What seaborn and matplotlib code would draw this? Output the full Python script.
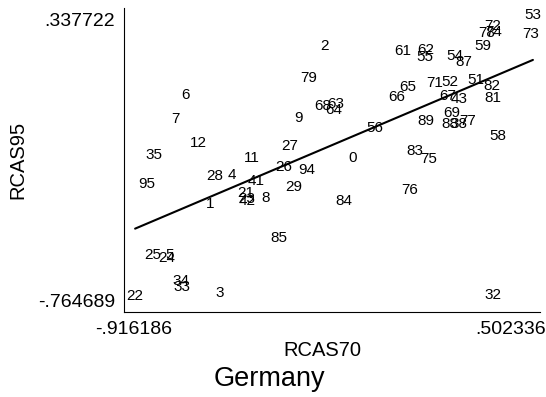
import matplotlib
matplotlib.use("Agg")
import matplotlib.pyplot as plt
import seaborn as sns
import pandas as pd

# Revealed comparative advantage by sector, 1970 vs 1995
sector = ["53", "72", "78", "74", "73", "59", "2", "61", "62", "55",
          "54", "87", "79", "65", "71", "52", "51", "82", "6", "66",
          "67", "43", "81", "68", "63", "64", "7", "9", "69", "89",
          "88", "38", "77", "56", "58", "12", "27", "35", "11", "0",
          "83", "75", "26", "94", "95", "28", "4", "41", "29", "76",
          "21", "23", "42", "8", "1", "84", "85", "25", "5", "24",
          "34", "33", "3", "22", "32"]
rcas70 = [0.585, 0.435, 0.412, 0.438, 0.578, 0.397, -0.198, 0.096, 0.183, 0.179,
          0.292, 0.326, -0.258, 0.115, 0.217, 0.273, 0.371, 0.431, -0.724, 0.074,
          0.266, 0.307, 0.435, -0.205, -0.156, -0.163, -0.762, -0.299, 0.281, 0.183,
          0.273, 0.307, 0.341, -0.009, 0.454, -0.675, -0.329, -0.841, -0.472, -0.092,
          0.141, 0.194, -0.352, -0.265, -0.867, -0.611, -0.547, -0.457, -0.314, 0.123,
          -0.495, -0.491, -0.491, -0.419, -0.630, -0.126, -0.370, -0.845, -0.781, -0.792,
          -0.739, -0.735, -0.592, -0.912, 0.435]
rcas95 = [0.353, 0.310, 0.283, 0.287, 0.279, 0.232, 0.232, 0.212, 0.216, 0.189,
          0.193, 0.169, 0.106, 0.071, 0.087, 0.091, 0.098, 0.075, 0.040, 0.032,
          0.036, 0.024, 0.028, -0.004, 0.004, -0.019, -0.055, -0.051, -0.031, -0.062,
          -0.074, -0.074, -0.062, -0.090, -0.121, -0.149, -0.161, -0.196, -0.208, -0.208,
          -0.180, -0.212, -0.243, -0.255, -0.310, -0.278, -0.274, -0.298, -0.321, -0.333,
          -0.345, -0.368, -0.376, -0.364, -0.388, -0.376, -0.521, -0.588, -0.588, -0.600,
          -0.690, -0.714, -0.737, -0.749, -0.745]

x_ticks = [-0.916186, -0.561556, -0.206925, 0.147705, 0.502336]
x_ticklabels = ["-.916186", "", "", "", ".502336"]
y_ticks = [-0.764689, -0.489087, -0.213484, 0.062119, 0.337722]
y_ticklabels = ["-.764689", "", "", "", ".337722"]

df = pd.DataFrame({"sector": sector, "RCAS70": rcas70, "RCAS95": rcas95})

sns.set_style("white")
plt.rcParams["font.family"] = ["Liberation Sans", "DejaVu Sans"]

fig = plt.figure(figsize=(5.46, 3.97), dpi=100)
ax = fig.add_axes([0.2271, 0.2141, 0.7619, 0.7657])

# Linear fit over the observed range
sns.regplot(data=df, x="RCAS70", y="RCAS95", scatter=False, ci=None,
            truncate=True, color="black", line_kws={"lw": 1.5}, ax=ax)

# Sector codes as marker labels
for s, xv, yv in zip(df["sector"], df["RCAS70"], df["RCAS95"]):
    ax.text(xv, yv, s, ha="center", va="center", fontsize=11, color="black")

ax.set_xlim(-0.9538, 0.6116)
ax.set_ylim(-0.8117, 0.3809)

ax.set_xticks(x_ticks)
ax.set_xticklabels(x_ticklabels)
ax.set_yticks(y_ticks)
ax.set_yticklabels(y_ticklabels)
ax.tick_params(axis="both", direction="out", length=5, width=0.8,
               labelsize=14, color="black", labelcolor="black", pad=1.5)

for side in ("top", "right"):
    ax.spines[side].set_visible(False)
for side in ("left", "bottom"):
    ax.spines[side].set_color("black")
    ax.spines[side].set_linewidth(0.8)

ax.set_xlabel("RCAS70", fontsize=14.5, color="black")
ax.set_ylabel("RCAS95", fontsize=14.5, color="black")
ax.xaxis.set_label_coords((322 - 124) / 416, -0.095)
ax.yaxis.set_label_coords(-0.232, 0.5)

fig.text(0.493, 0.045, "Germany", ha="center", va="center", fontsize=19.5,
         color="black")

fig.savefig("out.png", dpi=100)
